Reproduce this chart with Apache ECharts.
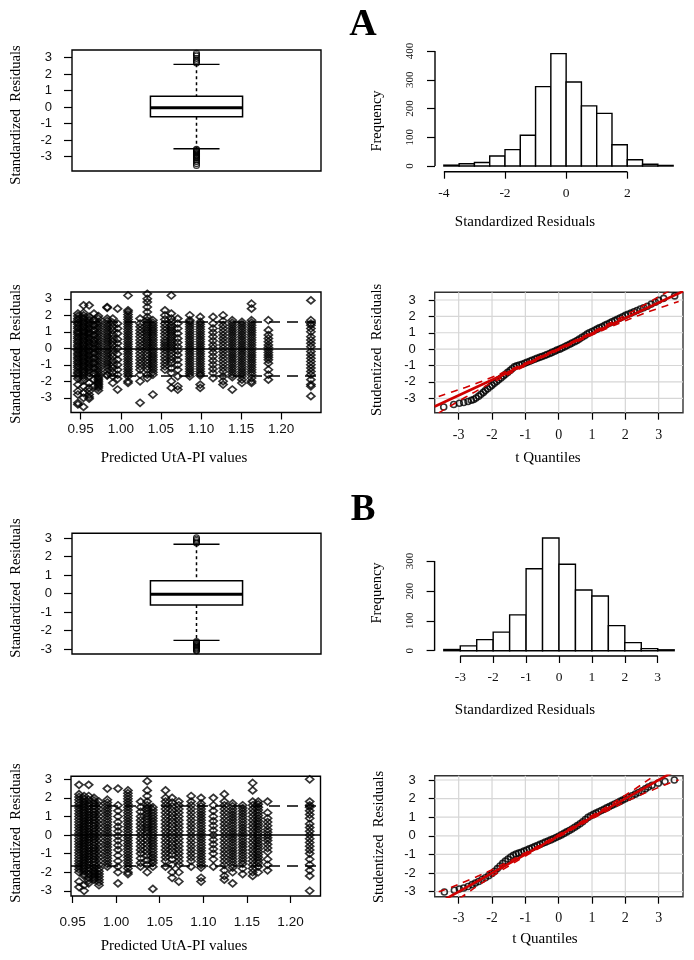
<!DOCTYPE html>
<html><head><meta charset="utf-8">
<script src="https://cdn.jsdelivr.net/npm/echarts@6/dist/echarts.min.js"></script>
<style>html,body{margin:0;padding:0;background:#fff}#c{width:694px;height:960px}</style>
</head><body><div id="c"></div>
<script>
// ---------------- DATA ----------------
// Box plots: [q1, median, q3, lower whisker, upper whisker]
const boxAStats = [-0.58, -0.03, 0.66, -2.52, 2.6];
const boxAOutliers = [3.27, 3.18, 3.1, 2.95, 2.85, 2.75, 2.68, -2.55, -2.6, -2.65, -2.7, -2.75, -2.8, -2.85, -2.9, -2.95, -3.0, -3.05, -3.1, -3.2, -3.3, -3.42, -3.53];
const boxBStats = [-0.61, -0.03, 0.70, -2.53, 2.68];
const boxBOutliers = [3.02, 2.95, 2.88, 2.8, 2.74, -2.6, -2.65, -2.7, -2.75, -2.8, -2.85, -2.9, -2.95, -3.0, -3.05, -3.1];
const boxTicks = [-3, -2, -1, 0, 1, 2, 3];

// Histograms
const histABreaks = [-4, -3.5, -3, -2.5, -2, -1.5, -1, -0.5, 0, 0.5, 1, 1.5, 2, 2.5, 3, 3.5];
const histACounts = [3, 8, 12, 35, 57, 107, 276, 391, 292, 209, 183, 74, 22, 6, 2];
const histATicksX = [-4, -2, 0, 2];
const histATicksY = [0, 100, 200, 300, 400];
const histBBreaks = [-3.5, -3, -2.5, -2, -1.5, -1, -0.5, 0, 0.5, 1, 1.5, 2, 2.5, 3, 3.5];
const histBCounts = [4, 16, 37, 62, 120, 274, 377, 289, 203, 183, 84, 27, 7, 3];
const histBTicksX = [-3, -2, -1, 0, 1, 2, 3];
const histBTicksY = [0, 100, 200, 300];

// Residuals vs predicted: [predicted value, [standardized residuals...]]
const scatterAColumns = [
  [0.9465, [2.1, 1.95, 1.8, 1.7, 1.55, 1.45, 1.3, 1.2, 1.05, 0.95, 0.85, 0.7, 0.6, 0.45, 0.35, 0.2, 0.1, -0.05, -0.15, -0.3, -0.4, -0.55, -0.65, -0.8, -0.9, -1.05, -1.15, -1.3, -1.45, -1.55, -1.7, -1.85, -2.2, -2.6, -2.8, -3.3, -3.4]],
  [0.9535, [2.6, 2.15, 2.0, 1.85, 1.75, 1.6, 1.5, 1.35, 1.25, 1.1, 1.0, 0.9, 0.75, 0.65, 0.5, 0.4, 0.25, 0.15, 0.0, -0.1, -0.25, -0.35, -0.5, -0.6, -0.75, -0.85, -1.0, -1.1, -1.25, -1.4, -1.5, -1.65, -1.8, -1.95, -2.3, -2.7, -3.0, -3.55]],
  [0.9605, [2.6, 1.9, 1.75, 1.65, 1.5, 1.4, 1.25, 1.15, 1.0, 0.9, 0.8, 0.65, 0.55, 0.4, 0.3, 0.15, 0.05, -0.1, -0.2, -0.35, -0.45, -0.6, -0.7, -0.85, -0.95, -1.1, -1.2, -1.35, -1.5, -1.7, -2.1, -2.4, -2.6, -2.8, -2.95, -3.05]],
  [0.9665, [2.1, 1.7, 1.4, 1.1, 0.8, 0.5, 0.3, 0.0, -0.3, -0.6, -0.9, -1.2, -1.5, -1.9, -2.3]],
  [0.972, [1.95, 1.8, 1.6, 1.45, 1.3, 1.15, 1.0, 0.85, 0.7, 0.55, 0.4, 0.25, 0.1, -0.05, -0.2, -0.35, -0.5, -0.65, -0.8, -0.95, -1.1, -1.25, -1.4, -1.55, -1.7, -1.8, -1.9, -2.0, -2.1, -2.2, -2.3, -2.4, -2.55]],
  [0.983, [2.5, 2.45, 1.8, 1.65, 1.5, 1.35, 1.2, 1.05, 0.9, 0.75, 0.6, 0.45, 0.3, 0.15, 0.0, -0.15, -0.3, -0.45, -0.6, -0.75, -0.9, -1.05, -1.2, -1.4, -1.6, -1.65]],
  [0.990, [1.8, 1.55, 1.3, 1.1, 0.85, 0.6, 0.4, 0.2, -0.05, -0.3, -0.5, -0.75, -1.0, -1.2, -1.45, -1.7, -2.1]],
  [0.996, [2.4, 1.5, 1.2, 0.9, 0.55, 0.3, 0.0, -0.35, -0.7, -1.0, -1.3, -1.6, -1.85, -2.5]],
  [1.009, [3.2, 2.3, 2.2, 2.05, 1.9, 1.75, 1.6, 1.45, 1.3, 1.15, 1.0, 0.85, 0.7, 0.55, 0.4, 0.25, 0.1, -0.05, -0.2, -0.35, -0.5, -0.65, -0.8, -0.95, -1.1, -1.25, -1.4, -1.55, -1.7, -2.0, -2.1]],
  [1.024, [1.8, 1.5, 1.3, 1.1, 0.9, 0.7, 0.5, 0.3, 0.1, -0.1, -0.3, -0.5, -0.7, -0.9, -1.1, -1.3, -1.6, -2.0, -3.3]],
  [1.033, [3.3, 3.0, 2.8, 2.5, 2.2, 1.9, 1.7, 1.55, 1.4, 1.25, 1.1, 0.95, 0.8, 0.65, 0.5, 0.35, 0.2, 0.05, -0.1, -0.3, -0.5, -0.7, -0.9, -1.1, -1.3, -1.6, -1.8]],
  [1.040, [1.7, 1.55, 1.4, 1.25, 1.1, 0.95, 0.8, 0.65, 0.5, 0.35, 0.2, 0.05, -0.1, -0.25, -0.4, -0.55, -0.7, -0.85, -1.0, -1.15, -1.3, -1.45, -1.6, -2.8]],
  [1.055, [2.3, 2.0, 1.75, 1.5, 1.3, 1.1, 0.9, 0.7, 0.5, 0.35, 0.2, 0.05, -0.1, -0.3, -0.5, -0.7, -0.9, -1.1, -1.3]],
  [1.063, [3.2, 2.1, 1.8, 1.6, 1.4, 1.25, 1.1, 0.95, 0.8, 0.65, 0.5, 0.35, 0.2, 0.05, -0.1, -0.3, -0.5, -0.7, -0.9, -1.2, -1.5, -2.0, -2.4]],
  [1.071, [1.8, 1.5, 1.2, 0.9, 0.6, 0.35, 0.1, -0.15, -0.4, -0.7, -1.0, -1.3, -1.7, -2.3, -2.5]],
  [1.086, [2.0, 1.7, 1.6, 1.45, 1.3, 1.15, 1.0, 0.85, 0.7, 0.55, 0.4, 0.25, 0.1, -0.05, -0.2, -0.35, -0.5, -0.65, -0.8, -0.95, -1.1, -1.25, -1.4, -1.55, -1.7]],
  [1.099, [1.9, 1.6, 1.45, 1.3, 1.15, 1.0, 0.85, 0.7, 0.55, 0.4, 0.25, 0.1, -0.05, -0.2, -0.35, -0.5, -0.65, -0.8, -0.95, -1.1, -1.25, -1.4, -1.55, -1.65, -2.2, -2.4]],
  [1.115, [1.9, 1.5, 1.2, 0.95, 0.7, 0.45, 0.2, 0.0, -0.25, -0.5, -0.75, -1.0, -1.25, -1.5, -1.8]],
  [1.1275, [2.0, 1.65, 1.4, 1.2, 1.0, 0.8, 0.6, 0.4, 0.2, 0.0, -0.2, -0.4, -0.6, -0.8, -1.0, -1.2, -1.4, -1.7, -2.0, -2.2]],
  [1.139, [1.7, 1.55, 1.4, 1.25, 1.1, 0.95, 0.8, 0.65, 0.5, 0.35, 0.2, 0.05, -0.1, -0.25, -0.4, -0.55, -0.7, -0.85, -1.0, -1.15, -1.3, -1.45, -1.6, -1.75, -2.5]],
  [1.151, [1.6, 1.45, 1.3, 1.15, 1.0, 0.85, 0.7, 0.55, 0.4, 0.25, 0.1, -0.05, -0.2, -0.35, -0.5, -0.65, -0.8, -0.95, -1.1, -1.25, -1.4, -1.55, -1.7, -1.9, -2.1]],
  [1.163, [2.7, 2.4, 1.7, 1.55, 1.4, 1.25, 1.1, 0.95, 0.8, 0.65, 0.5, 0.35, 0.2, 0.05, -0.1, -0.25, -0.4, -0.55, -0.7, -0.85, -1.0, -1.15, -1.3, -1.45, -1.6, -1.8, -2.0, -2.1]],
  [1.184, [1.7, 1.1, 0.8, 0.6, 0.4, 0.2, 0.05, -0.1, -0.25, -0.4, -0.55, -0.7, -0.9, -1.3, -1.6, -1.9]],
  [1.237, [2.9, 1.7, 1.5, 1.4, 1.2, 1.0, 0.7, 0.5, 0.3, 0.1, -0.2, -0.4, -0.6, -0.8, -1.0, -1.2, -1.4, -1.6, -1.9, -2.2, -2.3, -2.9]]
];
const scatterBColumns = [
  [0.9574, [2.7, 2.2, 2.05, 1.9, 1.75, 1.6, 1.45, 1.3, 1.15, 1.0, 0.85, 0.7, 0.55, 0.4, 0.25, 0.1, -0.05, -0.2, -0.35, -0.5, -0.65, -0.8, -0.95, -1.1, -1.25, -1.4, -1.55, -1.7, -1.85, -2.0, -2.5, -2.8]],
  [0.9632, [2.1, 1.95, 1.8, 1.65, 1.5, 1.35, 1.2, 1.05, 0.9, 0.75, 0.6, 0.45, 0.3, 0.15, 0.0, -0.15, -0.3, -0.45, -0.6, -0.75, -0.9, -1.05, -1.2, -1.35, -1.5, -1.65, -1.8, -1.95, -2.1, -2.2, -2.7, -3.0]],
  [0.9685, [2.7, 2.1, 1.9, 1.7, 1.55, 1.4, 1.25, 1.1, 0.95, 0.8, 0.65, 0.5, 0.35, 0.2, 0.05, -0.1, -0.25, -0.4, -0.55, -0.7, -0.85, -1.0, -1.15, -1.3, -1.45, -1.6, -1.75, -1.9, -2.1, -2.3, -2.45, -2.6]],
  [0.9746, [2.0, 1.85, 1.7, 1.55, 1.4, 1.25, 1.1, 0.95, 0.8, 0.65, 0.5, 0.35, 0.2, 0.05, -0.1, -0.25, -0.4, -0.55, -0.7, -0.85, -1.0, -1.15, -1.3, -1.45, -1.6, -1.75, -1.9, -2.0, -2.1, -2.2, -2.3, -2.4]],
  [0.9803, [1.8, 1.6, 1.4, 1.2, 1.0, 0.8, 0.6, 0.4, 0.2, 0.0, -0.2, -0.4, -0.6, -0.8, -1.0, -1.2, -1.4, -1.6, -1.8, -1.95, -2.1, -2.25, -2.4, -2.55, -2.7]],
  [0.9899, [2.5, 1.9, 1.75, 1.6, 1.45, 1.3, 1.15, 1.0, 0.85, 0.7, 0.55, 0.4, 0.25, 0.1, -0.05, -0.2, -0.35, -0.5, -0.65, -0.8, -0.95, -1.1, -1.25, -1.4, -1.55, -1.7]],
  [1.0021, [2.5, 1.6, 1.3, 1.0, 0.7, 0.45, 0.2, -0.05, -0.3, -0.55, -0.8, -1.1, -1.4, -1.7, -2.0, -2.6]],
  [1.0135, [2.4, 2.25, 2.1, 1.95, 1.8, 1.65, 1.5, 1.35, 1.2, 1.05, 0.9, 0.75, 0.6, 0.45, 0.3, 0.15, 0.0, -0.15, -0.3, -0.45, -0.6, -0.75, -0.9, -1.05, -1.2, -1.35, -1.5, -1.65, -1.8, -2.0, -2.1]],
  [1.028, [1.8, 1.5, 1.25, 1.0, 0.8, 0.6, 0.4, 0.2, 0.0, -0.2, -0.4, -0.6, -0.8, -1.0, -1.25, -1.5, -1.7]],
  [1.0356, [2.9, 2.4, 2.1, 1.8, 1.6, 1.45, 1.3, 1.15, 1.0, 0.85, 0.7, 0.55, 0.4, 0.25, 0.1, -0.1, -0.3, -0.5, -0.7, -0.9, -1.1, -1.35, -1.6, -2.0]],
  [1.0421, [1.5, 1.35, 1.2, 1.05, 0.9, 0.75, 0.6, 0.45, 0.3, 0.15, 0.0, -0.15, -0.3, -0.45, -0.6, -0.75, -0.9, -1.05, -1.2, -1.35, -1.5, -1.7, -2.9]],
  [1.0566, [2.4, 2.0, 1.8, 1.6, 1.4, 1.2, 1.0, 0.8, 0.6, 0.4, 0.2, 0.0, -0.2, -0.4, -0.6, -0.8, -1.0, -1.2, -1.4, -1.7]],
  [1.0642, [2.0, 1.75, 1.55, 1.35, 1.15, 0.95, 0.75, 0.55, 0.35, 0.15, -0.05, -0.25, -0.45, -0.65, -0.85, -1.05, -1.3, -1.6, -2.0, -2.3]],
  [1.0719, [1.8, 1.6, 1.4, 1.2, 1.0, 0.8, 0.6, 0.4, 0.2, 0.0, -0.2, -0.4, -0.6, -0.8, -1.0, -1.2, -1.4, -1.6, -2.0, -2.5]],
  [1.086, [2.1, 1.8, 1.6, 1.4, 1.2, 1.0, 0.8, 0.6, 0.4, 0.2, 0.0, -0.2, -0.4, -0.6, -0.8, -1.0, -1.2, -1.4, -1.7]],
  [1.0974, [2.0, 1.7, 1.55, 1.4, 1.25, 1.1, 0.95, 0.8, 0.65, 0.5, 0.35, 0.2, 0.05, -0.1, -0.25, -0.4, -0.55, -0.7, -0.85, -1.0, -1.15, -1.3, -1.45, -1.6, -1.75, -2.3, -2.5]],
  [1.1115, [2.0, 1.6, 1.3, 1.0, 0.75, 0.5, 0.25, 0.0, -0.25, -0.5, -0.75, -1.0, -1.3, -1.7]],
  [1.1241, [2.2, 1.8, 1.6, 1.4, 1.2, 1.0, 0.8, 0.6, 0.4, 0.2, 0.0, -0.2, -0.4, -0.6, -0.8, -1.0, -1.2, -1.4, -1.6, -1.9, -2.2, -2.4]],
  [1.1336, [1.7, 1.55, 1.4, 1.25, 1.1, 0.95, 0.8, 0.65, 0.5, 0.35, 0.2, 0.05, -0.1, -0.25, -0.4, -0.55, -0.7, -0.85, -1.0, -1.15, -1.3, -1.45, -1.6, -1.75, -2.0, -2.6]],
  [1.1451, [1.6, 1.45, 1.3, 1.15, 1.0, 0.85, 0.7, 0.55, 0.4, 0.25, 0.1, -0.05, -0.2, -0.35, -0.5, -0.65, -0.8, -0.95, -1.1, -1.25, -1.4, -1.55, -1.8, -2.1]],
  [1.1566, [2.8, 2.4, 1.8, 1.6, 1.4, 1.2, 1.0, 0.8, 0.6, 0.4, 0.2, 0.0, -0.2, -0.4, -0.6, -0.8, -1.0, -1.2, -1.4, -1.6, -1.8, -2.0, -2.2]],
  [1.163, [1.8, 1.65, 1.5, 1.35, 1.2, 1.05, 0.9, 0.75, 0.6, 0.45, 0.3, 0.15, 0.0, -0.15, -0.3, -0.45, -0.6, -0.75, -0.9, -1.05, -1.2, -1.35, -1.5, -1.7, -2.0]],
  [1.1737, [1.8, 1.2, 0.9, 0.7, 0.5, 0.3, 0.15, 0.0, -0.15, -0.3, -0.5, -0.7, -0.9, -1.3, -1.6, -1.9]],
  [1.222, [3.0, 1.8, 1.6, 1.5, 1.3, 1.1, 0.9, 0.6, 0.4, 0.2, 0.0, -0.2, -0.4, -0.6, -0.8, -1.0, -1.3, -1.6, -1.9, -2.2, -3.0]]
];
const scatterTicksX = [0.95, 1.00, 1.05, 1.10, 1.15, 1.20];
const scatterASolid = [0];
const scatterADashed = [1.63, -1.65];
const scatterBSolid = [0];
const scatterBDashed = [1.6, -1.63];

// QQ plots: [t quantile, studentized residual]
const qqAPoints = [[-3.45,-3.53],[-3.15,-3.38],[-2.98,-3.3],[-2.85,-3.26],[-2.72,-3.2],[-2.62,-3.12],[-2.55,-3.07],[-2.48,-2.98],[-2.4,-2.87],[-2.33,-2.75],[-2.26,-2.64],[-2.2,-2.53],[-2.13,-2.42],[-2.06,-2.3],[-2.0,-2.2],[-1.93,-2.08],[-1.86,-1.97],[-1.8,-1.87],[-1.73,-1.76],[-1.66,-1.64],[-1.6,-1.54],[-1.53,-1.42],[-1.46,-1.3],[-1.4,-1.2],[-1.33,-1.08],[-1.26,-1.02],[-1.18,-0.97],[-1.1,-0.92],[-1.02,-0.86],[-0.95,-0.8],[-0.87,-0.74],[-0.8,-0.68],[-0.72,-0.62],[-0.65,-0.56],[-0.57,-0.5],[-0.5,-0.45],[-0.42,-0.39],[-0.35,-0.33],[-0.27,-0.27],[-0.2,-0.2],[-0.12,-0.13],[-0.05,-0.06],[0.03,0.0],[0.1,0.07],[0.18,0.14],[0.25,0.22],[0.33,0.3],[0.4,0.37],[0.48,0.45],[0.55,0.53],[0.62,0.62],[0.7,0.72],[0.78,0.82],[0.85,0.92],[0.92,1.0],[1.0,1.08],[1.08,1.15],[1.15,1.22],[1.22,1.3],[1.3,1.37],[1.38,1.45],[1.45,1.52],[1.53,1.6],[1.6,1.67],[1.68,1.74],[1.76,1.82],[1.84,1.9],[1.92,1.98],[2.0,2.06],[2.08,2.13],[2.17,2.2],[2.26,2.28],[2.35,2.36],[2.45,2.45],[2.55,2.53],[2.66,2.62],[2.78,2.75],[2.9,2.86],[3.0,2.98],[3.15,3.1],[3.48,3.25]];
const qqALine = [[-3.72,-3.5],[3.73,3.53]];
const qqEnvX = [-3.6,-3.2,-2.8,-2.4,-2.0,-1.5,-1.0,-0.5,0,0.5,1.0,1.5,2.0,2.4,2.8,3.2,3.6];
const qqAEnvUpper = [-2.89,-2.61,-2.34,-2.04,-1.71,-1.29,-0.845,-0.39,0.08,0.55,1.045,1.55,2.07,2.5,2.96,3.43,3.91];
const qqAEnvLower = [-3.89,-3.41,-2.94,-2.48,-2.05,-1.53,-1.025,-0.53,-0.06,0.41,0.865,1.31,1.73,2.06,2.36,2.63,2.91];
const qqBPoints = [[-3.43,-3.02],[-3.13,-2.92],[-2.98,-2.86],[-2.85,-2.8],[-2.72,-2.72],[-2.6,-2.62],[-2.5,-2.54],[-2.4,-2.45],[-2.3,-2.35],[-2.2,-2.25],[-2.1,-2.14],[-2.0,-2.02],[-1.92,-1.9],[-1.84,-1.76],[-1.76,-1.62],[-1.68,-1.48],[-1.6,-1.36],[-1.52,-1.25],[-1.44,-1.14],[-1.36,-1.05],[-1.28,-0.98],[-1.2,-0.93],[-1.12,-0.88],[-1.04,-0.82],[-0.96,-0.76],[-0.88,-0.7],[-0.8,-0.64],[-0.72,-0.58],[-0.64,-0.52],[-0.56,-0.46],[-0.48,-0.4],[-0.4,-0.34],[-0.32,-0.28],[-0.24,-0.22],[-0.16,-0.16],[-0.08,-0.09],[0.0,-0.02],[0.08,0.05],[0.16,0.13],[0.24,0.21],[0.32,0.29],[0.4,0.37],[0.48,0.46],[0.56,0.55],[0.64,0.65],[0.72,0.76],[0.8,0.88],[0.88,0.99],[0.96,1.08],[1.04,1.15],[1.12,1.22],[1.2,1.29],[1.28,1.36],[1.36,1.43],[1.44,1.5],[1.52,1.57],[1.6,1.64],[1.68,1.71],[1.76,1.78],[1.84,1.85],[1.92,1.92],[2.0,1.99],[2.1,2.07],[2.2,2.15],[2.3,2.24],[2.4,2.33],[2.5,2.42],[2.6,2.52],[2.69,2.62],[2.8,2.72],[2.99,2.83],[3.19,2.92],[3.47,3.0]];
const qqBLine = [[-3.72,-3.72],[3.73,3.73]];
const qqBEnvUpper = [-3.0,-2.75,-2.45,-2.15,-1.82,-1.38,-0.91,-0.43,0.07,0.57,1.09,1.62,2.18,2.65,3.15,3.65,4.2];
const qqBEnvLower = [-4.2,-3.65,-3.15,-2.65,-2.18,-1.62,-1.09,-0.57,-0.07,0.43,0.91,1.38,1.82,2.15,2.45,2.75,3.0];
const qqTicks = [-3, -2, -1, 0, 1, 2, 3];

// ---------------- RENDER ----------------
const SERIF = '"Liberation Serif","Times New Roman",serif';
const SANS = '"Liberation Sans",Arial,sans-serif';
const RED = '#d00000';

const P = {
  boxA:  {left:72, top:50, width:249, height:121, x:[0.5,1.5], y:[-3.87,3.47]},
  histA: {left:435, top:49.1, width:247.3, height:122.6, x:[-4.29,3.8], y:[-19.8,406.6]},
  scatA: {left:71, top:292, width:250, height:120.5, x:[0.9379,1.2496], y:[-3.89,3.41]},
  qqA:   {left:434.7, top:292.3, width:248.3, height:120.4, x:[-3.72,3.73], y:[-3.88,3.47]},
  boxB:  {left:72, top:533.3, width:249, height:120.7, x:[0.5,1.5], y:[-3.27,3.27]},
  histB: {left:434.6, top:533.5, width:248.8, height:122.5, x:[-3.78,3.78], y:[-17.7,392]},
  scatB: {left:71, top:776.3, width:249.5, height:119.7, x:[0.9482,1.2344], y:[-3.28,3.16]},
  qqB:   {left:434.7, top:775.7, width:248.3, height:121, x:[-3.72,3.73], y:[-3.27,3.23]}
};
const order = ['boxA','histA','scatA','qqA','boxB','histB','scatB','qqB'];
const framed = {boxA:'#000', scatA:'#000', qqA:'#333', boxB:'#000', scatB:'#000', qqB:'#333'};

const grid = order.map(k => ({
  left:P[k].left, top:P[k].top, width:P[k].width, height:P[k].height,
  show: !!framed[k], borderColor: framed[k] || 'transparent', borderWidth: 1.4, backgroundColor:'transparent'
}));

function axis(gi, range, ticks, o) {
  o = o || {};
  const a = {
    type:'value', gridIndex:gi, min:range[0], max:range[1],
    axisLine:{show:false, onZero:false},
    splitLine:{show:false},
    axisPointer:{show:false},
    axisTick:{show:!!ticks, length:o.tickLen || 7, lineStyle:{color:'#000', width:1.2}},
    axisLabel:{show:!!ticks, margin:o.margin || 10, fontFamily:o.font || SANS, fontSize:o.size || 13, color:'#111', rotate:o.rotate || 0}
  };
  if (ticks) { a.axisTick.customValues = ticks; a.axisLabel.customValues = ticks; }
  if (o.fmt) a.axisLabel.formatter = o.fmt;
  return a;
}

const xAxis = [
  axis(0, P.boxA.x, null),
  axis(1, P.histA.x, histATicksX, {font:SERIF, size:13.5, margin:15}),
  axis(2, P.scatA.x, scatterTicksX, {size:13.5, margin:10, fmt:v => Number(v).toFixed(2)}),
  axis(3, P.qqA.x, qqTicks, {font:SERIF, size:14, margin:16}),
  axis(4, P.boxB.x, null),
  axis(5, P.histB.x, histBTicksX, {font:SERIF, size:13.5, margin:14}),
  axis(6, P.scatB.x, scatterTicksX, {size:13.5, margin:19, fmt:v => Number(v).toFixed(2)}),
  axis(7, P.qqB.x, qqTicks, {font:SERIF, size:14, margin:15})
];
const yAxis = [
  axis(0, P.boxA.y, boxTicks, {size:13, margin:20, tickLen:8}),
  axis(1, P.histA.y, histATicksY, {font:SERIF, size:11, margin:19, rotate:90, tickLen:8}),
  axis(2, P.scatA.y, boxTicks, {size:13, margin:19, tickLen:7}),
  axis(3, P.qqA.y, qqTicks, {size:13, margin:19, tickLen:6}),
  axis(4, P.boxB.y, boxTicks, {size:13, margin:20, tickLen:8}),
  axis(5, P.histB.y, histBTicksY, {font:SERIF, size:11, margin:19, rotate:90, tickLen:8}),
  axis(6, P.scatB.y, boxTicks, {size:13, margin:19, tickLen:7}),
  axis(7, P.qqB.y, qqTicks, {size:13, margin:19, tickLen:6})
];

const BOX_HALF = 0.185, CAP_HALF = 0.0925;
function boxRender(params, api) {
  const x = api.value(0), q1 = api.value(1), med = api.value(2), q3 = api.value(3), lo = api.value(4), hi = api.value(5);
  const tl = api.coord([x - BOX_HALF, q3]), br = api.coord([x + BOX_HALF, q1]);
  const c = api.coord([x, med]);
  const hiP = api.coord([x, hi]), loP = api.coord([x, lo]);
  const capL = api.coord([x - CAP_HALF, hi]), capR = api.coord([x + CAP_HALF, hi]);
  const capL2 = api.coord([x - CAP_HALF, lo]), capR2 = api.coord([x + CAP_HALF, lo]);
  const black = {stroke:'#000', lineWidth:1.4};
  return {type:'group', children:[
    {type:'line', shape:{x1:c[0], y1:hiP[1], x2:c[0], y2:tl[1]}, style:{stroke:'#000', lineWidth:1.5, lineDash:[3,3]}},
    {type:'line', shape:{x1:c[0], y1:br[1], x2:c[0], y2:loP[1]}, style:{stroke:'#000', lineWidth:1.5, lineDash:[3,3]}},
    {type:'line', shape:{x1:capL[0], y1:capL[1], x2:capR[0], y2:capR[1]}, style:black},
    {type:'line', shape:{x1:capL2[0], y1:capL2[1], x2:capR2[0], y2:capR2[1]}, style:black},
    {type:'rect', shape:{x:tl[0], y:tl[1], width:br[0]-tl[0], height:br[1]-tl[1]}, style:{fill:'#fff', stroke:'#000', lineWidth:1.5}},
    {type:'line', shape:{x1:tl[0], y1:c[1], x2:br[0], y2:c[1]}, style:{stroke:'#000', lineWidth:3}}
  ]};
}
function histRender(params, api) {
  const p0 = api.coord([api.value(0), api.value(2)]);
  const p1 = api.coord([api.value(1), 0]);
  return {type:'rect', shape:{x:p0[0], y:p0[1], width:p1[0]-p0[0], height:p1[1]-p0[1]},
          style:{fill:'#fff', stroke:'#000', lineWidth:1.4}};
}
// grid lines of the QQ plots, one vertical and one horizontal line per tick value
function qqGridRender(params, api) {
  const v = api.value(0);
  const cs = params.coordSys;
  const px = api.coord([v, 0])[0], py = api.coord([0, v])[1];
  const st = {stroke:'#d6d6d6', lineWidth:1.2};
  return {type:'group', children:[
    {type:'line', shape:{x1:px, y1:cs.y, x2:px, y2:cs.y + cs.height}, style:st},
    {type:'line', shape:{x1:cs.x, y1:py, x2:cs.x + cs.width, y2:py}, style:st}
  ]};
}
function histData(breaks, counts) { return counts.map((n, i) => [breaks[i], breaks[i+1], n]); }
function flatten(cols) { const out = []; cols.forEach(c => c[1].forEach(y => out.push([c[0], y]))); return out; }

function boxSeries(gi, stats, outliers) {
  return [
    {type:'custom', xAxisIndex:gi, yAxisIndex:gi, renderItem:boxRender, encode:{x:0, y:[1,2,3,4,5]}, data:[[1].concat(stats)], z:3, silent:true},
    {type:'scatter', xAxisIndex:gi, yAxisIndex:gi, data:outliers.map(v => [1, v]), symbol:'circle', symbolSize:6,
     itemStyle:{color:'rgba(0,0,0,0)', borderColor:'#000', borderWidth:1.1}, z:4, silent:true}
  ];
}
function histSeries(gi, breaks, counts, ticksX, ticksY, range) {
  const axisStyle = {color:'#000', width:1.4};
  return [
    {type:'custom', xAxisIndex:gi, yAxisIndex:gi, renderItem:histRender, encode:{x:[0,1], y:2}, data:histData(breaks, counts), z:3, silent:true},
    {type:'line', xAxisIndex:gi, yAxisIndex:gi, clip:false, symbol:'none', showSymbol:false, lineStyle:axisStyle, silent:true,
     data:[[ticksX[0], range.y[0]], [ticksX[ticksX.length-1], range.y[0]]]},
    {type:'line', xAxisIndex:gi, yAxisIndex:gi, clip:false, symbol:'none', showSymbol:false, lineStyle:axisStyle, silent:true,
     data:[[range.x[0], ticksY[0]], [range.x[0], ticksY[ticksY.length-1]]]}
  ];
}
function scatterSeries(gi, cols, solid, dashed) {
  return [
    {type:'scatter', xAxisIndex:gi, yAxisIndex:gi, data:flatten(cols), symbol:'diamond', symbolSize:[8,7],
     itemStyle:{color:'rgba(0,0,0,0)', borderColor:'#000', borderWidth:1.7}, z:2, silent:true},
    {type:'scatter', xAxisIndex:gi, yAxisIndex:gi, data:[], z:5, silent:true,
     markLine:{silent:true, symbol:['none','none'], label:{show:false}, animation:false,
       lineStyle:{color:'#000', width:1.6, type:'solid'}, data:solid.map(v => ({yAxis:v}))}},
    {type:'scatter', xAxisIndex:gi, yAxisIndex:gi, data:[], z:5, silent:true,
     markLine:{silent:true, symbol:['none','none'], label:{show:false}, animation:false,
       lineStyle:{color:'#000', width:1.6, type:[11,7]}, data:dashed.map(v => ({yAxis:v}))}}
  ];
}
function qqSeries(gi, pts, line, envU, envL) {
  return [
    {type:'custom', xAxisIndex:gi, yAxisIndex:gi, renderItem:qqGridRender, encode:{x:0, y:1},
     data:qqTicks.map(v => [v, v]), z:1, silent:true},
    {type:'scatter', xAxisIndex:gi, yAxisIndex:gi, data:pts, symbol:'circle', symbolSize:6,
     itemStyle:{color:'rgba(0,0,0,0)', borderColor:'#000', borderWidth:1.6}, z:3, silent:true},
    {type:'line', xAxisIndex:gi, yAxisIndex:gi, data:line, symbol:'none', showSymbol:false, lineStyle:{color:RED, width:2.6}, z:4, silent:true},
    {type:'line', xAxisIndex:gi, yAxisIndex:gi, data:qqEnvX.map((x, i) => [x, envU[i]]), smooth:true, symbol:'none', showSymbol:false,
     lineStyle:{color:RED, width:1.6, type:[7,6]}, z:4, silent:true},
    {type:'line', xAxisIndex:gi, yAxisIndex:gi, data:qqEnvX.map((x, i) => [x, envL[i]]), smooth:true, symbol:'none', showSymbol:false,
     lineStyle:{color:RED, width:1.6, type:[7,6]}, z:4, silent:true}
  ];
}

const series = [].concat(
  boxSeries(0, boxAStats, boxAOutliers),
  histSeries(1, histABreaks, histACounts, histATicksX, histATicksY, P.histA),
  scatterSeries(2, scatterAColumns, scatterASolid, scatterADashed),
  qqSeries(3, qqAPoints, qqALine, qqAEnvUpper, qqAEnvLower),
  boxSeries(4, boxBStats, boxBOutliers),
  histSeries(5, histBBreaks, histBCounts, histBTicksX, histBTicksY, P.histB),
  scatterSeries(6, scatterBColumns, scatterBSolid, scatterBDashed),
  qqSeries(7, qqBPoints, qqBLine, qqBEnvUpper, qqBEnvLower)
);

function txt(text, x, y, size, rot, weight) {
  return {type:'text', x:x, y:y, rotation:rot ? Math.PI/2 : 0, silent:true, z:10,
    style:{text:text, fontFamily:SERIF, fontSize:size, fontWeight:weight || 'normal', fill:'#000',
      textAlign:'center', textVerticalAlign:'middle', align:'center', verticalAlign:'middle'}};
}
const graphic = [
  txt('A', 363, 25, 38, false, 'bold'),
  txt('B', 363, 510, 37, false, 'bold'),
  txt('Standardized  Residuals', 16, 115, 14.5, true),
  txt('Frequency', 377, 121, 14.5, true),
  txt('Standardized Residuals', 525, 222, 15),
  txt('Standardized  Residuals', 16, 354, 14.5, true),
  txt('Predicted UtA-PI values', 174, 458, 15),
  txt('Studentized  Residuals', 377, 350, 14.5, true),
  txt('t Quantiles', 548, 458, 15),
  txt('Standardized  Residuals', 16, 588, 14.5, true),
  txt('Frequency', 377, 593, 14.5, true),
  txt('Standardized Residuals', 525, 710, 15),
  txt('Standardized  Residuals', 16, 833, 14.5, true),
  txt('Predicted UtA-PI values', 174, 946, 15),
  txt('Studentized  Residuals', 379, 837, 14.5, true),
  txt('t Quantiles', 545, 939, 15)
];

const chart = echarts.init(document.getElementById('c'), null, {renderer:'canvas', width:694, height:960});
chart.setOption({animation:false, backgroundColor:'#fff', tooltip:{show:false}, grid, xAxis, yAxis, series, graphic});
</script>
</body></html>
